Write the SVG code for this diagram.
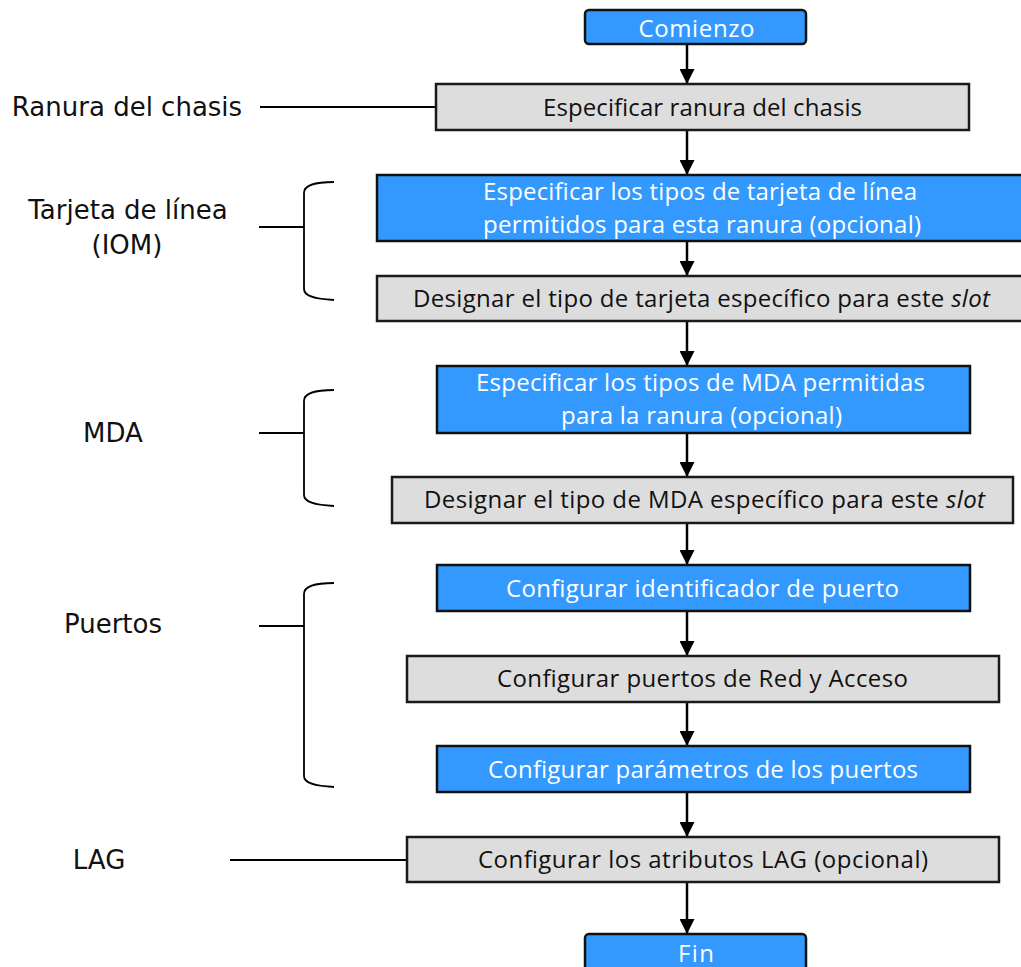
<svg xmlns="http://www.w3.org/2000/svg" width="1021" height="967" viewBox="0 0 1021 967">
  <defs>
    <style>
      .blue { fill: #3399FF; stroke: #111; stroke-width: 2.5; }
      .gray { fill: #DDDDDD; stroke: #1a1a1a; stroke-width: 2.5; }
      .t { font-family: "Open Sans", "Noto Sans", sans-serif; font-size: 24px; text-anchor: middle; }
      .tw { fill: #FFFFFF; }
      .tb { fill: #111111; }
      .lbl { font-family: "DejaVu Sans", Verdana, sans-serif; font-size: 26px; fill: #111; text-anchor: middle; }
      .flow { stroke: #000; stroke-width: 2.5; fill: none; marker-end: url(#head); }
      .brace { stroke: #000; stroke-width: 1.8; fill: none; }
    </style>
    <marker id="head" viewBox="0 0 10 10" refX="10" refY="5" markerUnits="userSpaceOnUse" markerWidth="15" markerHeight="15" orient="auto">
      <path d="M0,0 L10,5 L0,10 z" fill="#000"/>
    </marker>
  </defs>
  <rect width="1021" height="967" fill="#FFFFFF"/>

  <!-- connectors: flow arrows, side leaders and braces -->
  <g id="connectors">
    <line class="flow" x1="687" y1="44" x2="687" y2="84"/>
    <line class="flow" x1="687" y1="130" x2="687" y2="175"/>
    <line class="flow" x1="687" y1="241" x2="687" y2="276"/>
    <line class="flow" x1="687" y1="322" x2="687" y2="366"/>
    <line class="flow" x1="687" y1="433" x2="687" y2="477"/>
    <line class="flow" x1="687" y1="523" x2="687" y2="565"/>
    <line class="flow" x1="687" y1="611" x2="687" y2="656"/>
    <line class="flow" x1="687" y1="702" x2="687" y2="746"/>
    <line class="flow" x1="687" y1="792" x2="687" y2="837"/>
    <line class="flow" x1="687" y1="882" x2="687" y2="934"/>

    <line class="brace" x1="260" y1="107" x2="436" y2="107"/>
    <line class="brace" x1="230" y1="860" x2="407" y2="860"/>

    <line class="brace" x1="259" y1="227" x2="304" y2="227"/>
    <path class="brace" d="M334,182 C314,182 304,185 304,193 L304,289 C304,296 314,299 334,300"/>

    <line class="brace" x1="259" y1="433" x2="304" y2="433"/>
    <path class="brace" d="M334,390 C314,390 304,393 304,401 L304,495 C304,502 314,505 334,506"/>

    <line class="brace" x1="259" y1="626" x2="304" y2="626"/>
    <path class="brace" d="M334,583 C314,583 304,586 304,594 L304,776 C304,783 314,786 334,787"/>
  </g>

  <!-- side labels -->
  <g id="labels">
    <text class="lbl" x="127" y="116">Ranura del chasis</text>
    <text class="lbl" x="128" y="219">Tarjeta de línea</text>
    <text class="lbl" x="127" y="254">(IOM)</text>
    <text class="lbl" x="113" y="442">MDA</text>
    <text class="lbl" x="113" y="633">Puertos</text>
    <text class="lbl" x="99" y="869">LAG</text>
  </g>

  <g id="start">
    <rect class="blue" x="585" y="10" width="221" height="34" rx="4"/>
    <text class="t tw" x="696.5" y="37" textLength="116" lengthAdjust="spacing">Comienzo</text>
  </g>

  <g id="slot">
    <rect class="gray" x="436" y="84" width="533" height="46"/>
    <text class="t tb" x="702.5" y="116" textLength="319" lengthAdjust="spacing">Especificar ranura del chasis</text>
  </g>

  <g id="card-types">
    <rect class="blue" x="377" y="175" width="650" height="66"/>
    <text class="t tw" x="700" y="200" textLength="434" lengthAdjust="spacing">Especificar los tipos de tarjeta de línea</text>
    <text class="t tw" x="702" y="233" textLength="438" lengthAdjust="spacing">permitidos para esta ranura (opcional)</text>
  </g>

  <g id="card-assign">
    <rect class="gray" x="377" y="276" width="650" height="45"/>
    <text class="t tb" x="701.5" y="307" textLength="577" lengthAdjust="spacing">Designar el tipo de tarjeta específico para este <tspan font-style="italic">slot</tspan></text>
  </g>

  <g id="mda-types">
    <rect class="blue" x="437" y="366" width="533" height="67"/>
    <text class="t tw" x="700.5" y="391" textLength="449" lengthAdjust="spacing">Especificar los tipos de MDA permitidas</text>
    <text class="t tw" x="701.5" y="424" textLength="281" lengthAdjust="spacing">para la ranura (opcional)</text>
  </g>

  <g id="mda-assign">
    <rect class="gray" x="392" y="477" width="621" height="46"/>
    <text class="t tb" x="704.5" y="508" textLength="561" lengthAdjust="spacing">Designar el tipo de MDA específico para este <tspan font-style="italic">slot</tspan></text>
  </g>

  <g id="port-id">
    <rect class="blue" x="437" y="565" width="533" height="46"/>
    <text class="t tw" x="702.5" y="597" textLength="393" lengthAdjust="spacing">Configurar identificador de puerto</text>
  </g>

  <g id="port-mode">
    <rect class="gray" x="407" y="656" width="592" height="46"/>
    <text class="t tb" x="702.5" y="687" textLength="411" lengthAdjust="spacing">Configurar puertos de Red y Acceso</text>
  </g>

  <g id="port-params">
    <rect class="blue" x="437" y="746" width="533" height="46"/>
    <text class="t tw" x="703" y="778" textLength="430" lengthAdjust="spacing">Configurar parámetros de los puertos</text>
  </g>

  <g id="lag">
    <rect class="gray" x="407" y="837" width="592" height="45"/>
    <text class="t tb" x="703" y="868" textLength="450" lengthAdjust="spacing">Configurar los atributos LAG (opcional)</text>
  </g>

  <g id="end">
    <rect class="blue" x="585" y="934" width="221" height="40" rx="4"/>
    <text class="t tw" x="696" y="962" textLength="36" lengthAdjust="spacing">Fin</text>
  </g>
</svg>
